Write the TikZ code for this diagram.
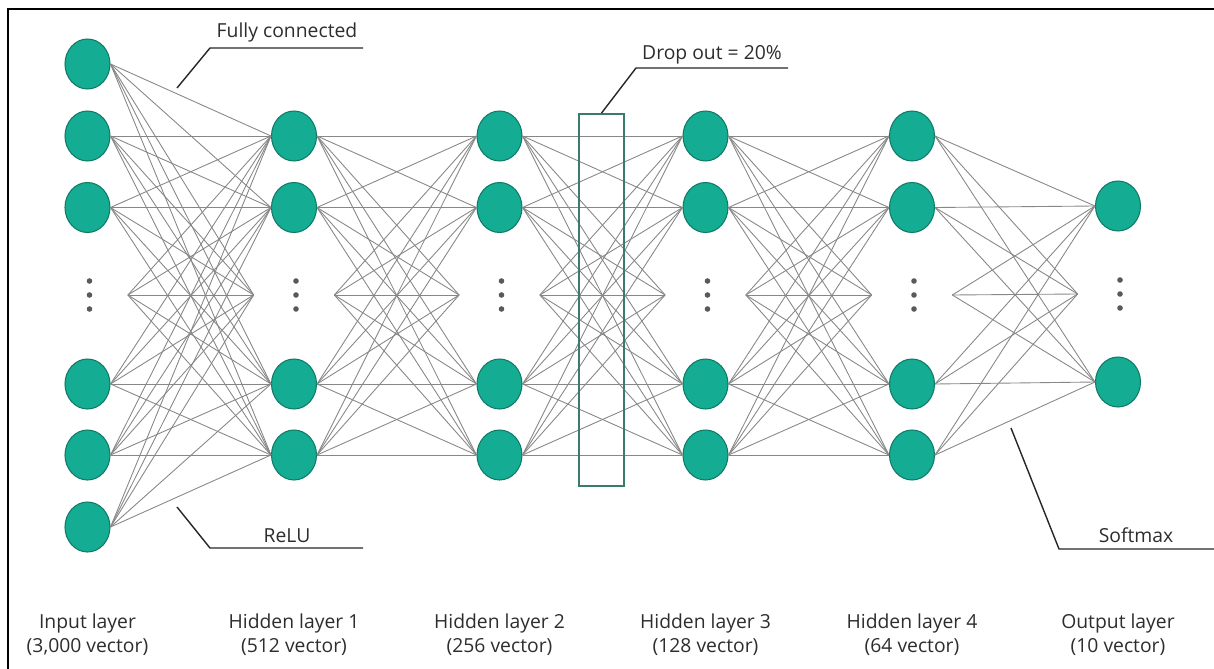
\documentclass[tikz,border=0pt]{standalone}
\usepackage{fontspec}
\setmainfont{Open Sans}
\usetikzlibrary{shapes.geometric}
\definecolor{unitfill}{RGB}{20,172,146}
\definecolor{unitline}{RGB}{15,122,102}
\definecolor{droprule}{RGB}{58,124,108}
\definecolor{linkgray}{RGB}{135,135,135}
\definecolor{textgray}{RGB}{45,45,45}
\begin{document}
\begin{tikzpicture}[x=0.02cm,y=-0.02cm,
    unit/.style={ellipse,fill=unitfill,draw=unitline,line width=0.6pt,
      minimum width=0.9cm,minimum height=1cm,inner sep=0},
    gap/.style={minimum width=1.6cm,minimum height=1cm,inner sep=0},
    link/.style={draw=linkgray,line width=0.5pt},
    callout/.style={line width=0.8pt,black!85},
    layername/.style={align=center,text=textgray,font=\fontsize{11}{13.5}\selectfont},
    note/.style={anchor=base,text=textgray,font=\fontsize{11}{13.5}\selectfont}]
      \useasboundingbox (0,0) rectangle (1214,669);
      \draw[line width=1pt] (8,669) -- (8,9) -- (1214,9);
      % units
      \draw
        (87.5,64) node[unit] (a1){}
        (87.5,136) node[unit] (a2){}
        (87.5,207.5) node[unit] (a3){}
        (87.5,295) node[gap] (a4){}
        (87.5,384) node[unit] (a5){}
        (87.5,455) node[unit] (a6){}
        (87.5,527) node[unit] (a7){}
        (294,136) node[unit] (b1){}
        (294,207.5) node[unit] (b2){}
        (294,295) node[gap] (b3){}
        (294,384) node[unit] (b4){}
        (294,455) node[unit] (b5){}
        (499.5,136) node[unit] (c1){}
        (499.5,207.5) node[unit] (c2){}
        (499.5,295) node[gap] (c3){}
        (499.5,384) node[unit] (c4){}
        (499.5,455) node[unit] (c5){}
        (705.5,136) node[unit] (d1){}
        (705.5,207.5) node[unit] (d2){}
        (705.5,295) node[gap] (d3){}
        (705.5,384) node[unit] (d4){}
        (705.5,455) node[unit] (d5){}
        (912,136) node[unit] (e1){}
        (912,207.5) node[unit] (e2){}
        (912,295) node[gap] (e3){}
        (912,384) node[unit] (e4){}
        (912,455) node[unit] (e5){}
        (1118,206) node[unit] (f1){}
        (1118,294) node[gap] (f2){}
        (1118,382) node[unit] (f3){};
      \foreach \n in {a4,b3,c3,d3,e3,f2}
        \foreach \dy in {-14,0,14}
          \fill[black!65] (\n) ++(2,\dy) circle (2.8);
      % weights
      \begin{scope}[link]
        \foreach \i in {1,...,7}
          \foreach \j in {1,...,5}
            \draw (a\i.east) -- (b\j.west);
        \foreach \i in {1,...,5}
          \foreach \j in {1,...,5}
            \draw (b\i.east) -- (c\j.west)
                  (c\i.east) -- (d\j.west)
                  (d\i.east) -- (e\j.west);
        \foreach \i in {1,...,5}
          \foreach \j in {1,...,3}
            \draw (e\i.east) -- (f\j.west);
      \end{scope}
      \node[draw=droprule,line width=1.1pt,minimum width=0.9cm,minimum height=7.44cm,inner sep=0]
        (drop) at (601.5,300) {};
      % callouts
      \coordinate (fcfoot) at (177,88);
      \coordinate (fcbend) at (210,48);
      \coordinate (fcend) at (363,48);
      \coordinate (rlfoot) at (177,507);
      \coordinate (rlbend) at (210,548);
      \coordinate (rlend) at (363,548);
      \coordinate (dobend) at (636,68);
      \coordinate (doend) at (788,68);
      \coordinate (smfoot) at (1011,428);
      \coordinate (smbend) at (1059,549);
      \coordinate (smend) at (1214,549);
      \draw[callout] (fcfoot) -- (fcbend) -- (fcend);
      \draw[callout] (rlfoot) -- (rlbend) -- (rlend);
      \draw[callout] (drop.north) -- (dobend) -- (doend);
      \draw[callout] (smfoot) -- (smbend) -- (smend);
      \node[note] (fc) at (287,38) {Fully connected};
      \node[note] (rl) at (287,542) {ReLU};
      \node[note] (do) at (712,60) {Drop out = 20\%};
      \node[note] (sm) at (1136,542) {Softmax};
      % layer names
      \node[layername] (la) at (87.5,635) {Input layer\\(3,000 vector)};
      \node[layername] (lb) at (294,635) {Hidden layer 1\\(512 vector)};
      \node[layername] (lc) at (499.5,635) {Hidden layer 2\\(256 vector)};
      \node[layername] (ld) at (705.5,635) {Hidden layer 3\\(128 vector)};
      \node[layername] (le) at (912,635) {Hidden layer 4\\(64 vector)};
      \node[layername] (lf) at (1118,635) {Output layer\\(10 vector)};
    \end{tikzpicture}
\end{document}
